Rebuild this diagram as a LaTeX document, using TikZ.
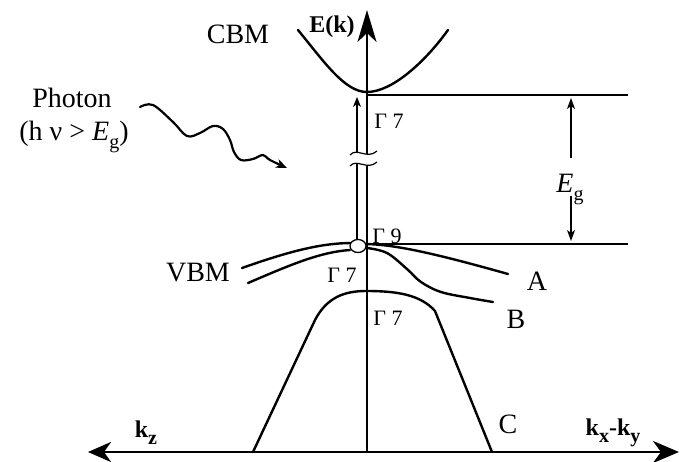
\documentclass[tikz,border=0pt]{standalone}
\usepackage{fontspec}
\setmainfont{Liberation Serif}
\usetikzlibrary{arrows.meta}
\tikzset{
  band/.style={line width=2.4pt, line cap=round, line join=round},
  axisline/.style={line width=2.8pt},
  thinline/.style={line width=1.3pt},
  lbl/.style={inner sep=0pt, font=\fontsize{28}{30}\selectfont},
  glbl/.style={inner sep=0pt, font=\fontsize{22}{24}\selectfont},
  klbl/.style={inner sep=0pt, font=\fontsize{24}{26}\selectfont\bfseries},
}
\newcommand\mysub[1]{\raisebox{-0.3em}{\fontsize{20}{20}\selectfont #1}}
\newcommand\ksub[1]{\raisebox{-0.3em}{\fontsize{20}{20}\selectfont\bfseries #1}}
\begin{document}
\begin{tikzpicture}[x=1pt,y=-1pt]
\useasboundingbox (0,0) rectangle (680,461);

% key coordinates
\coordinate (origin) at (367,452);
\coordinate (ytop) at (367,10);
\coordinate (xleft) at (88,452);
\coordinate (xright) at (679,452);
\coordinate (cbm) at (367,92);
\coordinate (topL) at (367,95);
\coordinate (topR) at (628,95);
\coordinate (botL) at (367,244);
\coordinate (botR) at (628,244);
\coordinate (egTop) at (571,98);
\coordinate (egGapTop) at (571,158);
\coordinate (egGapBot) at (571,196);
\coordinate (egBot) at (571,241);
\coordinate (exTop) at (357,97);
\coordinate (exBot) at (357,240);

% axes
\draw[axisline, -{Stealth[length=32pt,width=19pt,inset=9pt]}] (origin) -- (ytop);
\draw[axisline, -{Stealth[length=23pt,width=20pt,inset=7pt]}] (origin) -- (xleft);
\draw[axisline, -{Stealth[length=26pt,width=22pt,inset=8pt]}] (origin) -- (xright);

% band-gap reference lines
\draw[thinline] (topL) -- (topR);
\draw[thinline] (botL) -- (botR);
\draw[line width=1.1pt, -{Stealth[length=11pt,width=8pt,inset=3pt]}] (egGapTop) -- (egTop);
\draw[line width=1.1pt, -{Stealth[length=11pt,width=8pt,inset=3pt]}] (egGapBot) -- (egBot);

% excitation arrow
\draw[line width=1.3pt, -{Stealth[length=10pt,width=8pt,inset=3pt]}] (exBot) -- (exTop);

% conduction band
\draw[band] (298,30) .. controls (325,63) and (345,92) .. (cbm) .. controls (392,92) and (425,62) .. (448,30);

% valence bands A and B
\draw[band] (242,268) .. controls (290,251) and (322,243) .. (352,243);
\draw[band] (248,283) .. controls (290,265) and (320,252) .. (350,250);
\draw[band] (367,244) .. controls (395,245) and (430,252) .. (508,274);
\draw[band] plot[smooth, tension=0.6] coordinates
  {(367,248) (387,253) (407,269) (421,282) (441,292) (470,298) (493,302)};

% band C
\draw[band] (253,452) -- (315,320) .. controls (327,297) and (345,291) .. (366,291)
  .. controls (395,291) and (420,294) .. (435,311) -- (492,452);

% break marks
\fill[white] (350,155) .. controls (357,147) and (367,160) .. (377,151)
  -- (377,162) .. controls (367,171) and (357,158) .. (350,166) -- cycle;
\draw[line width=1.2pt] (350,155) .. controls (357,147) and (367,160) .. (377,151);
\draw[line width=1.2pt] (350,166) .. controls (357,158) and (367,171) .. (377,162);

% hole
\draw[line width=1.3pt, fill=white] (358,246) ellipse [x radius=8, y radius=6.5];

% photon
\draw[line width=2.2pt, line cap=round, -{Stealth[length=11pt,width=9pt,inset=3pt]}] plot[smooth, tension=0.6] coordinates
  {(140,107) (153,105) (173,122) (187,136) (200,133) (213,126) (223,129) (230,140) (234,152) (241,160) (253,159) (263,155) (270,160) (287,168)};

% labels
\node[lbl, anchor=base] (lcbm) at (238,43) {CBM};
\node[klbl, anchor=base] (lek) at (332,32) {E(k)};
\node[lbl, anchor=base] (lphoton) at (72,107) {Photon};
\node[lbl, anchor=base] (lhnu) at (74,140) {(h ν > \textit{E}\mysub{g})};
\node[lbl, anchor=base] (leg) at (570,192) {\textit{E}\mysub{g}};
\node[lbl, anchor=base] (lvbm) at (198,281) {VBM};
\node[lbl, anchor=base] (la) at (537,290) {A};
\node[lbl, anchor=base] (lb) at (516,328) {B};
\node[lbl, anchor=base] (lc) at (508,433) {C};
\node[glbl] (g7a) at (389,121) {Γ 7};
\node[glbl] (g9) at (387,236) {Γ 9};
\node[glbl] (g7b) at (342,275) {Γ 7};
\node[glbl] (g7c) at (388,318) {Γ 7};
\node[klbl, anchor=base] (lkz) at (146,437) {k\ksub{z}};
\node[klbl, anchor=base] (lkxy) at (613,435) {k\ksub{x}-k\ksub{y}};
\end{tikzpicture}
\end{document}
